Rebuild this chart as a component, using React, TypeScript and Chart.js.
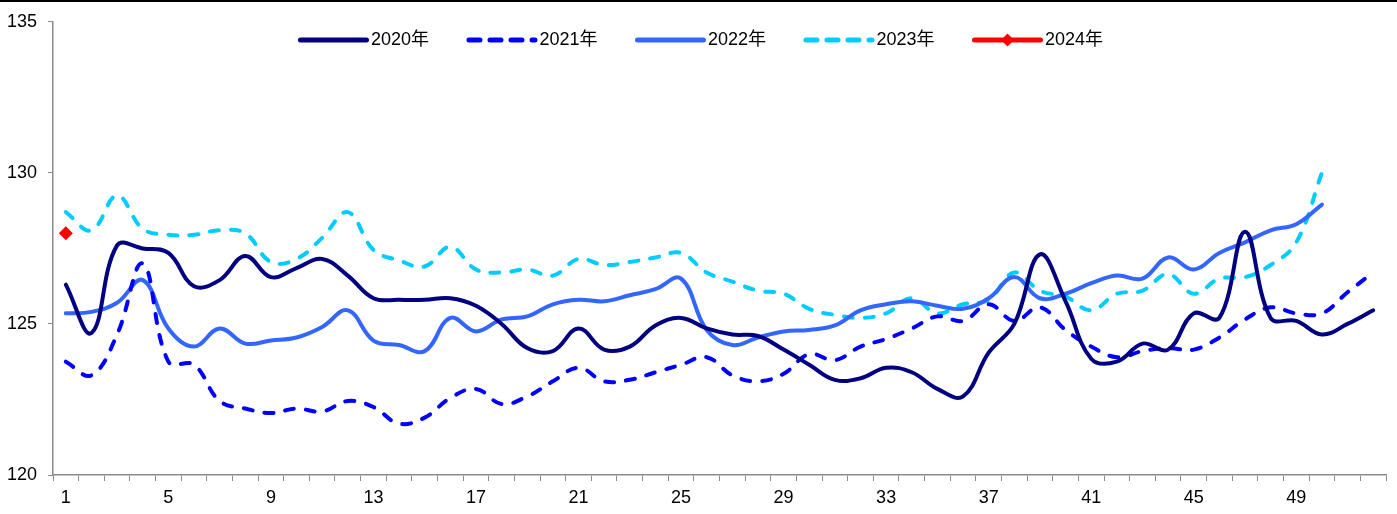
import React, { useEffect, useRef } from 'react';
import { Chart, registerables } from 'chart.js';

Chart.register(...registerables);

const weeks = ['1','2','3','4','5','6','7','8','9','10','11','12','13','14','15','16','17','18','19','20','21','22','23','24','25','26','27','28','29','30','31','32','33','34','35','36','37','38','39','40','41','42','43','44','45','46','47','48','49','50','51','52'];

const s2020 = [126.3, 124.7, 127.6, 127.5, 127.35, 126.25, 126.45, 127.25, 126.55, 126.85, 127.15, 126.6, 125.85, 125.8, 125.8, 125.85, 125.6, 125.0, 124.2, 124.1, 124.85, 124.15, 124.25, 124.95, 125.2, 124.85, 124.65, 124.6, 124.15, 123.65, 123.15, 123.2, 123.55, 123.4, 122.85, 122.6, 124.05, 125.0, 127.3, 125.75, 123.85, 123.75, 124.35, 124.15, 125.35, 125.2, 128.05, 125.2, 125.1, 124.65, 125.0, 125.45];
const s2021 = [123.75, 123.3, 124.65, 127.0, 123.75, 123.65, 122.45, 122.2, 122.05, 122.2, 122.1, 122.45, 122.25, 121.7, 121.9, 122.55, 122.85, 122.35, 122.6, 123.1, 123.55, 123.1, 123.15, 123.4, 123.65, 123.9, 123.3, 123.1, 123.35, 124.0, 123.8, 124.25, 124.5, 124.85, 125.25, 125.1, 125.65, 125.1, 125.55, 124.8, 124.25, 123.9, 124.1, 124.2, 124.15, 124.55, 125.15, 125.55, 125.35, 125.35, 126.05, 126.7];
const s2022 = [125.35, 125.4, 125.7, 126.45, 124.85, 124.25, 124.85, 124.35, 124.45, 124.55, 124.9, 125.45, 124.45, 124.3, 124.1, 125.2, 124.75, 125.15, 125.25, 125.65, 125.8, 125.75, 125.95, 126.15, 126.5, 124.8, 124.3, 124.55, 124.75, 124.8, 124.95, 125.45, 125.65, 125.75, 125.6, 125.5, 125.85, 126.55, 125.85, 126.0, 126.35, 126.6, 126.5, 127.2, 126.8, 127.35, 127.7, 128.1, 128.3, 128.95, null, null];
const s2023 = [128.7, 128.1, 129.25, 128.15, 127.95, 127.95, 128.1, 128.0, 127.05, 127.15, 127.85, 128.7, 127.45, 127.1, 126.9, 127.55, 126.8, 126.7, 126.8, 126.6, 127.15, 126.95, 127.05, 127.2, 127.35, 126.7, 126.4, 126.1, 126.0, 125.5, 125.3, 125.2, 125.35, 125.85, 125.35, 125.65, 125.8, 126.7, 126.1, 125.9, 125.45, 126.0, 126.1, 126.65, 126.0, 126.5, 126.55, 126.95, 127.7, 130.0, null, null];
const s2024 = [128.0];

const seriesLabels = ['2020年', '2021年', '2022年', '2023年', '2024年'];
const yTicks = [120, 125, 130, 135];

const FONT = '"Liberation Sans", Arial, "Noto Sans CJK SC", sans-serif';
const AXIS = '#8c8c8c';

const legendPlugin = {
  id: 'customLegend',
  afterDraw(chart: any) {
    const ctx = chart.ctx;
    ctx.save();
    // top border line
    ctx.fillStyle = '#000';
    ctx.fillRect(0, 0, chart.width, 2);

    ctx.font = '18px ' + FONT;
    ctx.textBaseline = 'middle';
    ctx.textAlign = 'left';
    const lineLen = 71;
    const gap = 2;
    const pitch = 168.5;
    const datasets = chart.data.datasets;
    const n = datasets.length;
    const lastW = lineLen + gap + ctx.measureText(datasets[n - 1].label).width;
    const total = (n - 1) * pitch + lastW;
    let x0 = chart.width / 2 - total / 2 + 2;
    const y = 40;
    datasets.forEach((ds: any, i: number) => {
      const x = x0 + i * pitch;
      ctx.save();
      ctx.strokeStyle = ds.borderColor;
      ctx.lineWidth = 5;
      ctx.lineCap = 'round';
      ctx.setLineDash(ds.borderDash && ds.borderDash.length ? [11, 10] : []);
      ctx.beginPath();
      ctx.moveTo(x + 2.5, y);
      ctx.lineTo(x + lineLen - 2.5, y);
      ctx.stroke();
      ctx.restore();
      if (ds.pointStyle === 'rectRot') {
        const cx = x + lineLen / 2;
        const r = 6.5;
        ctx.fillStyle = ds.borderColor;
        ctx.beginPath();
        ctx.moveTo(cx, y - r);
        ctx.lineTo(cx + r, y);
        ctx.lineTo(cx, y + r);
        ctx.lineTo(cx - r, y);
        ctx.closePath();
        ctx.fill();
      }
      ctx.fillStyle = '#000';
      ctx.fillText(ds.label, x + lineLen + gap, y);
    });
    ctx.restore();
  },
};

export default function App() {
  const ref = useRef<HTMLCanvasElement | null>(null);

  useEffect(() => {
    if (!ref.current) return;
    const common = {
      borderWidth: 4,
      pointRadius: 0,
      pointHoverRadius: 0,
      tension: 0.4,
      fill: false,
      borderCapStyle: 'round',
      borderJoinStyle: 'round',
      spanGaps: false,
    };
    const chart = new Chart(ref.current, {
      type: 'line',
      data: {
        labels: weeks,
        datasets: [
          { ...common, label: seriesLabels[0], data: s2020, borderColor: '#000080', backgroundColor: '#000080' },
          { ...common, label: seriesLabels[1], data: s2021, borderColor: '#0000FF', backgroundColor: '#0000FF', borderDash: [9, 12] },
          { ...common, label: seriesLabels[2], data: s2022, borderColor: '#3366FF', backgroundColor: '#3366FF' },
          { ...common, label: seriesLabels[3], data: s2023, borderColor: '#00CCFF', backgroundColor: '#00CCFF', borderDash: [9, 12] },
          {
            ...common,
            label: seriesLabels[4],
            data: s2024,
            borderColor: '#FF0000',
            backgroundColor: '#FF0000',
            pointStyle: 'rectRot',
            pointRadius: 7,
            pointBorderWidth: 0,
            pointBackgroundColor: '#FF0000',
          },
        ],
      } as any,
      options: {
        animation: false,
        responsive: false,
        devicePixelRatio: 1,
        events: [],
        layout: { padding: { top: 17, right: 11, left: 0, bottom: 0 } },
        plugins: {
          legend: { display: false },
          tooltip: { enabled: false },
        },
        scales: {
          x: {
            type: 'category',
            offset: true,
            afterFit: (scale: any) => { scale.height = 39; },
            grid: { offset: true, drawOnChartArea: false, drawTicks: true, tickLength: 6, color: AXIS, lineWidth: 1 },
            border: { color: AXIS, width: 1.5 },
            ticks: {
              autoSkip: false,
              maxRotation: 0,
              padding: 6,
              color: '#000',
              font: { size: 18, family: FONT },
              callback: (_v: any, i: number) => (i % 4 === 0 ? weeks[i] : ''),
            },
          },
          y: {
            min: 120,
            max: 135,
            afterFit: (scale: any) => { scale.width = 53; },
            afterBuildTicks: (scale: any) => { scale.ticks = yTicks.map((v) => ({ value: v })); },
            grid: { drawOnChartArea: false, drawTicks: true, tickLength: 5, color: AXIS, lineWidth: 1 },
            border: { color: AXIS, width: 1.5 },
            ticks: {
              padding: 11,
              color: '#000',
              font: { size: 18, family: FONT },
            },
          },
        },
      } as any,
      plugins: [legendPlugin],
    });
    return () => chart.destroy();
  }, []);

  return (
    <div style={{ position: 'fixed', left: 0, top: 0, width: 1397, height: 514, background: '#fff' }}>
      <canvas ref={ref} width={1397} height={514} style={{ display: 'block' }} />
    </div>
  );
}
